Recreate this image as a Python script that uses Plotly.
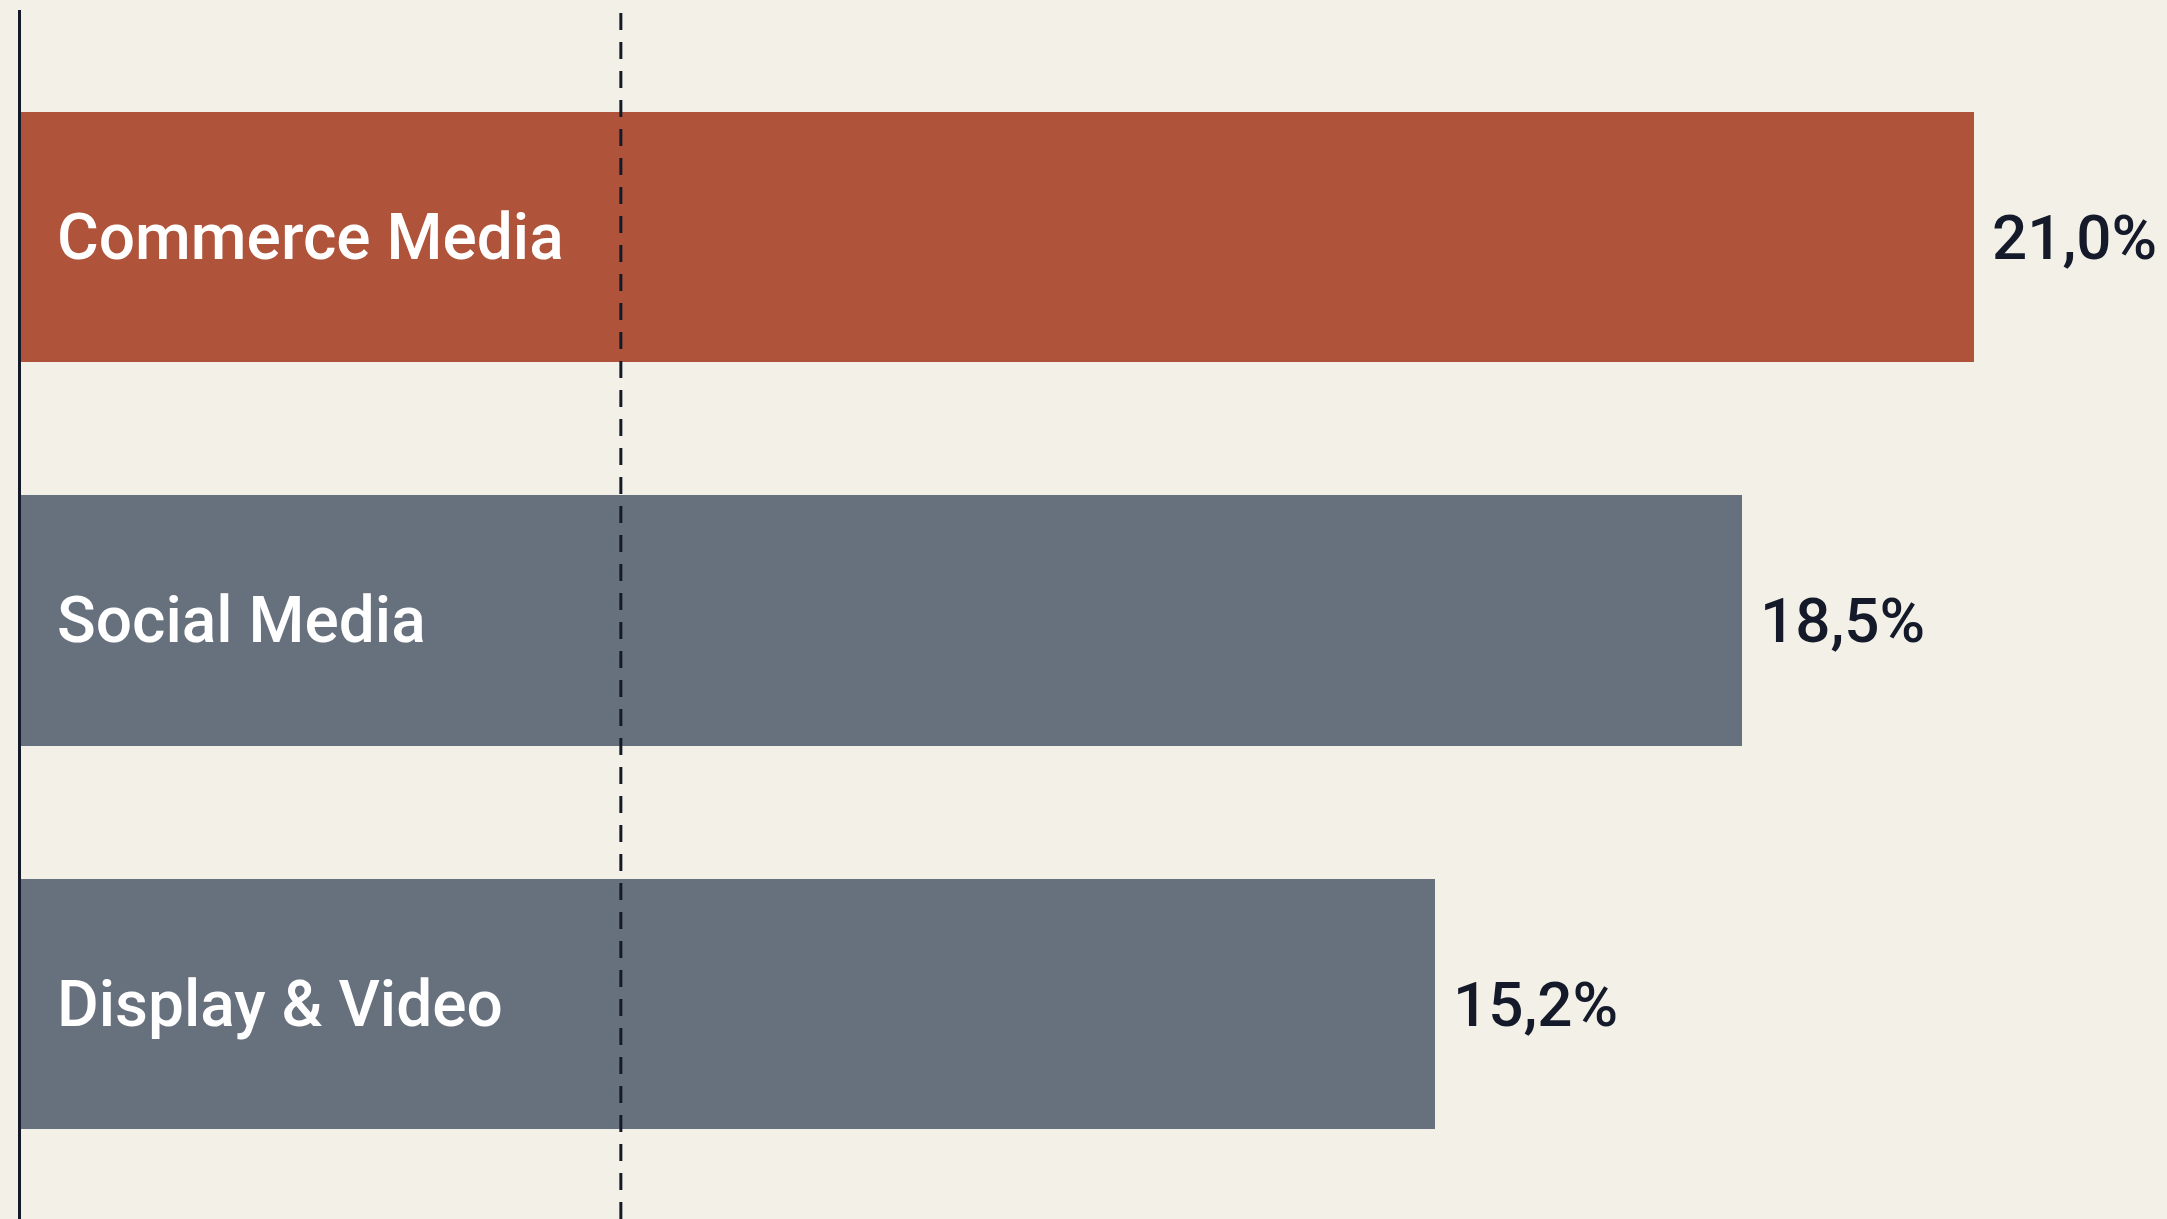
import plotly.graph_objects as go

categories = ["Commerce Media", "Social Media", "Display & Video"]
values = [21.0, 18.5, 15.2]
value_labels = ["21,0%", "18,5%", "15,2%"]
bar_colors = ["#AF533A", "#67707D", "#67707D"]
reference_value = 6.45

W, H = 2167, 1219
ml, mt = 21, 10
plot_w = W - ml
plot_h = H - mt
px_per_unit = 93.0
x_max = plot_w / px_per_unit

pitch = 383.5
span = plot_h / pitch
top_offset = (237 - mt) / pitch
y_range = [span - top_offset, -top_offset]

fig = go.Figure()
fig.add_trace(go.Bar(
    y=categories, x=values, orientation="h",
    marker=dict(color=bar_colors, line=dict(width=0)),
    width=0.652, hoverinfo="skip", showlegend=False,
))

font_family = "Roboto, Liberation Sans, Arial, sans-serif"
for cat, v, lab in zip(categories, values, value_labels):
    fig.add_annotation(x=0, y=cat, text=cat, showarrow=False, xanchor="left",
                       xshift=34, yanchor="middle",
                       font=dict(family=font_family, size=64, color="#FFFFFF", weight=500))
    fig.add_annotation(x=v, y=cat, text=lab, showarrow=False, xanchor="left",
                       xshift=16, yanchor="middle",
                       font=dict(family=font_family, size=62, color="#141A2A", weight=500))

fig.add_shape(type="line", xref="x", yref="paper", x0=reference_value, x1=reference_value,
              y0=0, y1=1, layer="above",
              line=dict(color="#141A2A", width=3, dash="17px,12px"))

fig.update_layout(
    width=W, height=H,
    margin=dict(l=ml, r=0, t=mt, b=0),
    paper_bgcolor="#F3F0E7", plot_bgcolor="#F3F0E7",
    bargap=0,
    xaxis=dict(range=[0, x_max], showgrid=False, zeroline=False, showticklabels=False,
               ticks="", showline=False, fixedrange=True),
    yaxis=dict(range=y_range, showgrid=False, zeroline=False, showticklabels=False,
               ticks="", showline=True, linecolor="#141A2A", linewidth=2.5, fixedrange=True),
)

fig.write_html("out.html", config={"displayModeBar": False})
